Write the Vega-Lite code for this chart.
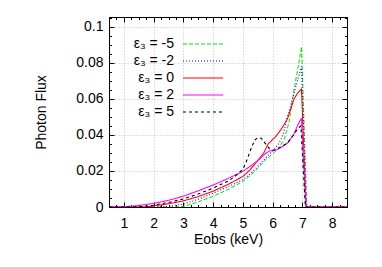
{
  "$schema": "https://vega.github.io/schema/vega-lite/v6.json",
  "width": 238,
  "height": 190,
  "autosize": "none",
  "padding": {"left": 109, "top": 17, "right": 35, "bottom": 60},
  "background": "white",
  "config": {
    "font": "Liberation Sans",
    "view": {"stroke": "#000", "strokeWidth": 1},
    "axis": {
      "domainColor": "#000",
      "tickColor": "#000",
      "labelColor": "#000",
      "titleColor": "#000",
      "labelFontSize": 14,
      "titleFontSize": 14,
      "titleFontWeight": "normal",
      "gridColor": "#b0b0b0",
      "gridDash": [1, 2],
      "gridWidth": 0.8
    },
    "legend": {
      "title": null, "orient": "none", "legendX": 87, "legendY": 20,
      "symbolType": "M-4,0H4", "symbolSize": 100,
      "labelFontSize": 14, "labelAlign": "right", "labelOffset": -36,
      "rowPadding": 3
    }
  },
  "data": {
    "values": [
      {"E": 0.5, "f": 0, "s": "ε₃ = -5"},
      {"E": 2.8, "f": 0, "s": "ε₃ = -5"},
      {"E": 3.0, "f": 0.0003, "s": "ε₃ = -5"},
      {"E": 3.5, "f": 0.0028, "s": "ε₃ = -5"},
      {"E": 4.0, "f": 0.006, "s": "ε₃ = -5"},
      {"E": 4.5, "f": 0.0097, "s": "ε₃ = -5"},
      {"E": 5.0, "f": 0.0142, "s": "ε₃ = -5"},
      {"E": 5.25, "f": 0.0175, "s": "ε₃ = -5"},
      {"E": 5.5, "f": 0.0215, "s": "ε₃ = -5"},
      {"E": 5.75, "f": 0.026, "s": "ε₃ = -5"},
      {"E": 6.0, "f": 0.0295, "s": "ε₃ = -5"},
      {"E": 6.2, "f": 0.0325, "s": "ε₃ = -5"},
      {"E": 6.4, "f": 0.038, "s": "ε₃ = -5"},
      {"E": 6.55, "f": 0.047, "s": "ε₃ = -5"},
      {"E": 6.65, "f": 0.058, "s": "ε₃ = -5"},
      {"E": 6.75, "f": 0.068, "s": "ε₃ = -5"},
      {"E": 6.85, "f": 0.077, "s": "ε₃ = -5"},
      {"E": 6.97, "f": 0.089, "s": "ε₃ = -5"},
      {"E": 7.15, "f": 0, "s": "ε₃ = -5"},
      {"E": 8.5, "f": 0, "s": "ε₃ = -5"},

      {"E": 0.5, "f": 0, "s": "ε₃ = -2"},
      {"E": 2.2, "f": 0, "s": "ε₃ = -2"},
      {"E": 2.5, "f": 0.0004, "s": "ε₃ = -2"},
      {"E": 3.0, "f": 0.0016, "s": "ε₃ = -2"},
      {"E": 3.5, "f": 0.0043, "s": "ε₃ = -2"},
      {"E": 4.0, "f": 0.0077, "s": "ε₃ = -2"},
      {"E": 4.5, "f": 0.0112, "s": "ε₃ = -2"},
      {"E": 5.0, "f": 0.0152, "s": "ε₃ = -2"},
      {"E": 5.25, "f": 0.0185, "s": "ε₃ = -2"},
      {"E": 5.5, "f": 0.0225, "s": "ε₃ = -2"},
      {"E": 5.75, "f": 0.027, "s": "ε₃ = -2"},
      {"E": 6.0, "f": 0.031, "s": "ε₃ = -2"},
      {"E": 6.2, "f": 0.035, "s": "ε₃ = -2"},
      {"E": 6.35, "f": 0.040, "s": "ε₃ = -2"},
      {"E": 6.48, "f": 0.049, "s": "ε₃ = -2"},
      {"E": 6.6, "f": 0.056, "s": "ε₃ = -2"},
      {"E": 6.75, "f": 0.065, "s": "ε₃ = -2"},
      {"E": 6.85, "f": 0.071, "s": "ε₃ = -2"},
      {"E": 6.97, "f": 0.078, "s": "ε₃ = -2"},
      {"E": 7.13, "f": 0, "s": "ε₃ = -2"},
      {"E": 8.5, "f": 0, "s": "ε₃ = -2"},

      {"E": 0.5, "f": 0, "s": "ε₃ = 0"},
      {"E": 1.7, "f": 0, "s": "ε₃ = 0"},
      {"E": 2.0, "f": 0.0006, "s": "ε₃ = 0"},
      {"E": 2.5, "f": 0.0018, "s": "ε₃ = 0"},
      {"E": 3.0, "f": 0.0034, "s": "ε₃ = 0"},
      {"E": 3.5, "f": 0.0058, "s": "ε₃ = 0"},
      {"E": 4.0, "f": 0.0088, "s": "ε₃ = 0"},
      {"E": 4.5, "f": 0.0125, "s": "ε₃ = 0"},
      {"E": 5.0, "f": 0.017, "s": "ε₃ = 0"},
      {"E": 5.25, "f": 0.0208, "s": "ε₃ = 0"},
      {"E": 5.5, "f": 0.0258, "s": "ε₃ = 0"},
      {"E": 5.7, "f": 0.030, "s": "ε₃ = 0"},
      {"E": 5.85, "f": 0.035, "s": "ε₃ = 0"},
      {"E": 6.0, "f": 0.0375, "s": "ε₃ = 0"},
      {"E": 6.1, "f": 0.039, "s": "ε₃ = 0"},
      {"E": 6.3, "f": 0.0435, "s": "ε₃ = 0"},
      {"E": 6.5, "f": 0.049, "s": "ε₃ = 0"},
      {"E": 6.62, "f": 0.055, "s": "ε₃ = 0"},
      {"E": 6.72, "f": 0.060, "s": "ε₃ = 0"},
      {"E": 6.85, "f": 0.0635, "s": "ε₃ = 0"},
      {"E": 6.97, "f": 0.0655, "s": "ε₃ = 0"},
      {"E": 7.12, "f": 0, "s": "ε₃ = 0"},
      {"E": 8.5, "f": 0, "s": "ε₃ = 0"},

      {"E": 0.5, "f": 0, "s": "ε₃ = 2"},
      {"E": 1.0, "f": 0.0001, "s": "ε₃ = 2"},
      {"E": 1.5, "f": 0.0008, "s": "ε₃ = 2"},
      {"E": 2.0, "f": 0.002, "s": "ε₃ = 2"},
      {"E": 2.5, "f": 0.0037, "s": "ε₃ = 2"},
      {"E": 3.0, "f": 0.006, "s": "ε₃ = 2"},
      {"E": 3.5, "f": 0.009, "s": "ε₃ = 2"},
      {"E": 4.0, "f": 0.0122, "s": "ε₃ = 2"},
      {"E": 4.5, "f": 0.0158, "s": "ε₃ = 2"},
      {"E": 5.0, "f": 0.0198, "s": "ε₃ = 2"},
      {"E": 5.3, "f": 0.0232, "s": "ε₃ = 2"},
      {"E": 5.55, "f": 0.0265, "s": "ε₃ = 2"},
      {"E": 5.75, "f": 0.0295, "s": "ε₃ = 2"},
      {"E": 5.9, "f": 0.0312, "s": "ε₃ = 2"},
      {"E": 6.1, "f": 0.0315, "s": "ε₃ = 2"},
      {"E": 6.3, "f": 0.0333, "s": "ε₃ = 2"},
      {"E": 6.5, "f": 0.0355, "s": "ε₃ = 2"},
      {"E": 6.7, "f": 0.040, "s": "ε₃ = 2"},
      {"E": 6.82, "f": 0.0445, "s": "ε₃ = 2"},
      {"E": 6.92, "f": 0.048, "s": "ε₃ = 2"},
      {"E": 6.97, "f": 0.049, "s": "ε₃ = 2"},
      {"E": 7.12, "f": 0, "s": "ε₃ = 2"},
      {"E": 8.5, "f": 0, "s": "ε₃ = 2"},

      {"E": 0.5, "f": 0, "s": "ε₃ = 5"},
      {"E": 1.3, "f": 0, "s": "ε₃ = 5"},
      {"E": 1.8, "f": 0.0005, "s": "ε₃ = 5"},
      {"E": 2.0, "f": 0.001, "s": "ε₃ = 5"},
      {"E": 2.5, "f": 0.0025, "s": "ε₃ = 5"},
      {"E": 3.0, "f": 0.0045, "s": "ε₃ = 5"},
      {"E": 3.5, "f": 0.0072, "s": "ε₃ = 5"},
      {"E": 4.0, "f": 0.0105, "s": "ε₃ = 5"},
      {"E": 4.5, "f": 0.0143, "s": "ε₃ = 5"},
      {"E": 4.75, "f": 0.0172, "s": "ε₃ = 5"},
      {"E": 5.0, "f": 0.021, "s": "ε₃ = 5"},
      {"E": 5.1, "f": 0.0245, "s": "ε₃ = 5"},
      {"E": 5.2, "f": 0.029, "s": "ε₃ = 5"},
      {"E": 5.3, "f": 0.0335, "s": "ε₃ = 5"},
      {"E": 5.4, "f": 0.0372, "s": "ε₃ = 5"},
      {"E": 5.5, "f": 0.0385, "s": "ε₃ = 5"},
      {"E": 5.62, "f": 0.0382, "s": "ε₃ = 5"},
      {"E": 5.72, "f": 0.036, "s": "ε₃ = 5"},
      {"E": 5.82, "f": 0.0338, "s": "ε₃ = 5"},
      {"E": 5.92, "f": 0.032, "s": "ε₃ = 5"},
      {"E": 6.05, "f": 0.0315, "s": "ε₃ = 5"},
      {"E": 6.25, "f": 0.0332, "s": "ε₃ = 5"},
      {"E": 6.5, "f": 0.0355, "s": "ε₃ = 5"},
      {"E": 6.7, "f": 0.040, "s": "ε₃ = 5"},
      {"E": 6.82, "f": 0.043, "s": "ε₃ = 5"},
      {"E": 6.95, "f": 0.045, "s": "ε₃ = 5"},
      {"E": 7.1, "f": 0, "s": "ε₃ = 5"},
      {"E": 8.5, "f": 0, "s": "ε₃ = 5"}
    ]
  },
  "layer": [
    {
      "mark": {"type": "line", "clip": true},
      "encoding": {
        "x": {
          "field": "E", "type": "quantitative",
          "scale": {"domain": [0.5, 8.5], "nice": false, "zero": false},
          "axis": {
            "title": "Eobs (keV)",
            "titlePadding": 2,
            "values": [0.5,0.75,1,1.25,1.5,1.75,2,2.25,2.5,2.75,3,3.25,3.5,3.75,4,4.25,4.5,4.75,5,5.25,5.5,5.75,6,6.25,6.5,6.75,7,7.25,7.5,7.75,8,8.25,8.5],
            "labelExpr": "datum.value % 1 == 0 ? format(datum.value, 'd') : ''",
            "tickSize": {"condition": {"test": "datum.value % 1 != 0", "value": -2.5}, "value": -5},
            "gridOpacity": {"condition": {"test": "datum.value % 1 != 0", "value": 0}, "value": 1},
            "labelPadding": 14,
            "labelFlush": false
          }
        },
        "y": {
          "field": "f", "type": "quantitative",
          "scale": {"domain": [0, 0.1055], "nice": false},
          "axis": {
            "title": "Photon Flux",
            "titlePadding": 27,
            "values": [0,0.005,0.01,0.015,0.02,0.025,0.03,0.035,0.04,0.045,0.05,0.055,0.06,0.065,0.07,0.075,0.08,0.085,0.09,0.095,0.1,0.105],
            "labelExpr": "abs(datum.value*50 - round(datum.value*50)) < 0.001 ? (datum.value == 0 ? '0' : format(datum.value, '.2~f')) : ''",
            "tickSize": {"condition": {"test": "abs(datum.value*50 - round(datum.value*50)) > 0.001", "value": -2.5}, "value": -5},
            "gridOpacity": {"condition": {"test": "abs(datum.value*50 - round(datum.value*50)) > 0.001", "value": 0}, "value": 1},
            "labelPadding": 11,
            "labelFlush": false
          }
        },
        "color": {
          "field": "s", "type": "nominal",
          "scale": {"domain": ["ε₃ = -5", "ε₃ = -2", "ε₃ = 0", "ε₃ = 2", "ε₃ = 5"],
                    "range": ["#00dd00", "#0000ff", "#ff0000", "#ff00ff", "#000000"]}
        },
        "strokeDash": {
          "field": "s", "type": "nominal",
          "scale": {"domain": ["ε₃ = -5", "ε₃ = -2", "ε₃ = 0", "ε₃ = 2", "ε₃ = 5"],
                    "range": [[4, 2], [1, 2], [1, 0], [1, 0], [3, 3]]}
        },
        "strokeWidth": {
          "field": "s", "type": "nominal",
          "scale": {"domain": ["ε₃ = -5", "ε₃ = -2", "ε₃ = 0", "ε₃ = 2", "ε₃ = 5"],
                    "range": [1, 1.1, 1.6, 0.9, 1]}
        }
      }
    },
    {
      "mark": {"type": "point", "opacity": 0},
      "encoding": {
        "x": {
          "field": "E", "type": "quantitative",
          "axis": {
            "orient": "top", "title": null, "labels": false, "domain": false, "grid": false,
            "values": [0.5,0.75,1,1.25,1.5,1.75,2,2.25,2.5,2.75,3,3.25,3.5,3.75,4,4.25,4.5,4.75,5,5.25,5.5,5.75,6,6.25,6.5,6.75,7,7.25,7.5,7.75,8,8.25,8.5],
            "tickSize": {"condition": {"test": "datum.value % 1 != 0", "value": -2.5}, "value": -5}
          }
        },
        "y": {
          "field": "f", "type": "quantitative",
          "axis": {
            "orient": "right", "title": null, "labels": false, "domain": false, "grid": false,
            "values": [0,0.005,0.01,0.015,0.02,0.025,0.03,0.035,0.04,0.045,0.05,0.055,0.06,0.065,0.07,0.075,0.08,0.085,0.09,0.095,0.1,0.105],
            "tickSize": {"condition": {"test": "abs(datum.value*50 - round(datum.value*50)) > 0.001", "value": -2.5}, "value": -5}
          }
        }
      }
    }
  ],
  "resolve": {"axis": {"x": "independent", "y": "independent"}}
}
